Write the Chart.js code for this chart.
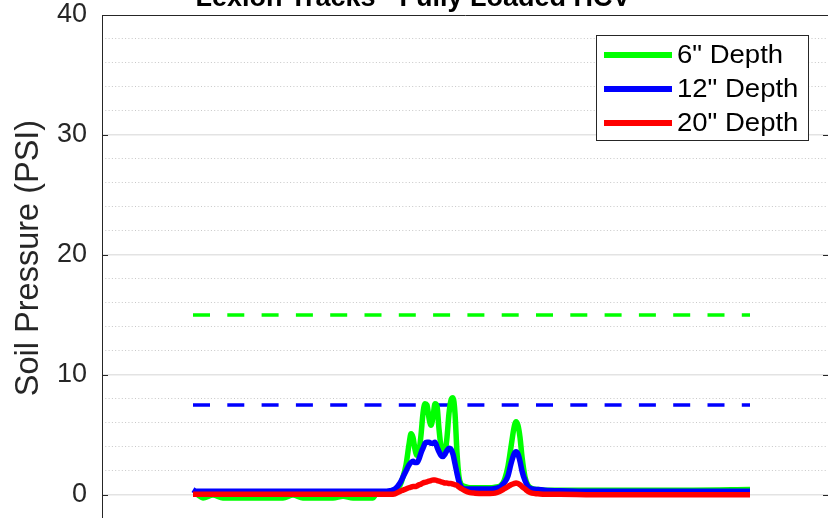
<!DOCTYPE html>
<html>
<head>
<meta charset="utf-8">
<script src="https://cdn.jsdelivr.net/npm/chart.js@4.4.1/dist/chart.umd.min.js"></script>
<style>
  html, body { margin: 0; padding: 0; background: #fff; overflow: hidden; }
  #wrap { position: absolute; left: 0; top: 0; width: 840px; height: 518px; }
</style>
</head>
<body>
<div id="wrap"><canvas id="chart"></canvas></div>
<script>
// time (s) and soil pressure (PSI)
const TIME = [
  0, 0.3, 1, 2, 3, 4, 5, 6, 7, 8, 9, 10, 11, 12, 13, 14, 15, 16, 17, 18,
  18.3, 19, 19.7, 20.2, 20.7, 21.0, 21.3, 21.6, 21.8, 22.0, 22.2, 22.4, 22.6, 22.8,
  23.0, 23.2, 23.4, 23.6, 23.8, 24.0, 24.2, 24.4, 24.6, 24.8, 25.0, 25.2, 25.4, 25.6,
  25.8, 26.0, 26.2, 26.4, 26.6, 26.8, 27.2, 27.7, 28.2, 29.0, 29.7, 30.2, 30.7, 31.0,
  31.2, 31.5, 31.8, 32.1, 32.3, 32.5, 32.7, 32.9, 33.2, 33.5, 33.9, 34.5, 35.2, 36.7,
  40, 45, 50, 55.7
];
const DEPTH_6 = [
  0.05, 0.05, -0.25, 0.0, -0.25, -0.25, -0.25, -0.25, -0.25, -0.25, -0.25, 0.0, -0.25, -0.25, -0.25, -0.25, -0.1, -0.25, -0.25, -0.25,
  0.05, 0.1, 0.2, 0.3, 0.8, 1.5, 2.5, 4.2, 5.1, 4.8, 3.8, 3.3, 3.6, 5.0,
  6.8, 7.6, 7.5, 6.4, 5.8, 6.5, 7.6, 7.4, 5.5, 4.0, 3.4, 3.6, 4.8, 6.8,
  7.9, 8.1, 6.8, 3.5, 1.5, 0.9, 0.7, 0.6, 0.6, 0.6, 0.6, 0.65, 0.75, 1.0,
  1.4, 2.4, 4.0, 5.6, 6.1, 5.8, 4.8, 3.2, 1.5, 0.8, 0.55, 0.45, 0.4, 0.4,
  0.4, 0.4, 0.4, 0.45
];
const DEPTH_12 = [
  0.45, 0.3, 0.3, 0.3, 0.3, 0.3, 0.3, 0.3, 0.3, 0.3, 0.3, 0.3, 0.3, 0.3, 0.3, 0.3, 0.3, 0.3, 0.3, 0.3,
  0.3, 0.3, 0.35, 0.5, 1.0, 1.5, 2.0, 2.5, 2.7, 2.8, 2.7, 2.7, 3.0, 3.5,
  3.9, 4.3, 4.4, 4.4, 4.3, 4.3, 4.4, 4.0, 3.6, 3.3, 3.2, 3.4, 3.7, 3.9,
  3.8, 3.4, 2.6, 1.8, 1.1, 0.7, 0.5, 0.5, 0.5, 0.5, 0.5, 0.55, 0.65, 0.9,
  1.1, 1.6, 2.6, 3.4, 3.6, 3.4, 2.8, 2.0, 1.2, 0.7, 0.5, 0.45, 0.4, 0.35,
  0.3, 0.3, 0.3, 0.3
];
const DEPTH_20 = [
  0.05, 0.05, 0.05, 0.05, 0.05, 0.05, 0.05, 0.05, 0.05, 0.05, 0.05, 0.05, 0.05, 0.05, 0.05, 0.05, 0.05, 0.05, 0.05, 0.05,
  0.05, 0.05, 0.05, 0.1, 0.3, 0.4, 0.5, 0.6, 0.65, 0.7, 0.7, 0.75, 0.85, 0.9,
  1.0, 1.05, 1.1, 1.15, 1.2, 1.25, 1.25, 1.2, 1.15, 1.1, 1.05, 1.0, 1.0, 0.95,
  0.95, 0.9, 0.85, 0.8, 0.65, 0.55, 0.35, 0.2, 0.15, 0.12, 0.12, 0.15, 0.3, 0.45,
  0.55, 0.7, 0.85, 0.95, 1.0, 0.95, 0.85, 0.7, 0.5, 0.3, 0.15, 0.1, 0.05, 0.05,
  0.02, 0.02, 0.02, 0.02
];

// allowable pressure limits (dashed)
const LIMIT_TIME = [0, 55.7];
const LIMIT_6 = [15, 15];
const LIMIT_12 = [7.5, 7.5];

const SERIES_LABELS = ['6" Depth', '12" Depth', '20" Depth'];
const Y_TICKS = [0, 10, 20, 30, 40];
const Y_MINOR = [2, 4, 6, 8, 12, 14, 16, 18, 22, 24, 26, 28, 32, 34, 36, 38];
const TITLE = 'Lexion Tracks - Fully Loaded HCV';
const Y_LABEL = 'Soil Pressure (PSI)';

const GREEN = '#00ff00';
const BLUE = '#0000ff';
const RED = '#ff0000';
const AXIS = '#262626';
const FONT = "'Liberation Sans', Arial, sans-serif";

function xy(xs, ys) {
  return xs.map((x, i) => ({ x, y: ys[i] }));
}

function lineSet(label, data, color, order) {
  return {
    label,
    data: xy(TIME, data),
    borderColor: color,
    backgroundColor: color,
    borderWidth: 5.5,
    borderJoinStyle: 'round',
    pointRadius: 0,
    cubicInterpolationMode: 'monotone',
    fill: false,
    order,
  };
}

function limitSet(data, color) {
  return {
    label: '',
    data: xy(LIMIT_TIME, data),
    borderColor: color,
    borderWidth: 3.5,
    borderDash: [17, 17.3],
    pointRadius: 0,
    fill: false,
    order: 3,
  };
}

// no extra room for the end labels: the plot fills the canvas edge to edge
function fitY(width) {
  return s => {
    s.width = width;
    s.paddingTop = 0;
    s.paddingBottom = 0;
  };
}

// frame, inward ticks, title, y label and boxed legend (MATLAB look)
const frame = {
  id: 'frame',
  afterDraw(chart) {
    const { ctx, chartArea: a } = chart;
    const y = chart.scales.y;
    ctx.save();
    ctx.strokeStyle = AXIS;
    ctx.lineWidth = 1;
    ctx.beginPath();
    ctx.moveTo(a.left, a.top + 0.5);
    ctx.lineTo(a.right, a.top + 0.5);
    Y_TICKS.forEach(v => {
      const py = Math.round(y.getPixelForValue(v)) + 0.5;
      ctx.moveTo(a.left, py);
      ctx.lineTo(a.left + 6, py);
      ctx.moveTo(a.right - 6, py);
      ctx.lineTo(a.right, py);
    });
    ctx.stroke();

    ctx.fillStyle = '#000';
    ctx.font = `bold 27px ${FONT}`;
    ctx.textAlign = 'center';
    ctx.textBaseline = 'alphabetic';
    ctx.fillText(TITLE, 413, 6);

    ctx.save();
    ctx.translate(29, 258);
    ctx.rotate(-Math.PI / 2);
    ctx.fillStyle = AXIS;
    ctx.font = `32.5px ${FONT}`;
    ctx.textBaseline = 'middle';
    ctx.fillText(Y_LABEL, 0, 0);
    ctx.restore();

    // legend box
    ctx.fillStyle = '#fff';
    ctx.fillRect(596, 35, 212, 105);
    ctx.strokeStyle = AXIS;
    ctx.strokeRect(596.5, 35.5, 212, 105);
    ctx.font = `25px ${FONT}`;
    ctx.textAlign = 'left';
    ctx.textBaseline = 'middle';
    chart.data.datasets.slice(0, 3).forEach((ds, i) => {
      const ry = 55 + i * 34;
      ctx.strokeStyle = ds.borderColor;
      ctx.lineWidth = 6;
      ctx.beginPath();
      ctx.moveTo(604, ry);
      ctx.lineTo(672, ry);
      ctx.stroke();
      ctx.save();
      ctx.translate(677, ry + 1);
      ctx.scale(1.1, 1);
      ctx.fillStyle = '#000';
      ctx.fillText(ds.label, 0, 0);
      ctx.restore();
    });
    ctx.restore();
  }
};

new Chart(document.getElementById('chart'), {
  type: 'line',
  data: {
    datasets: [
      lineSet(SERIES_LABELS[0], DEPTH_6, GREEN, 2),
      lineSet(SERIES_LABELS[1], DEPTH_12, BLUE, 1),
      lineSet(SERIES_LABELS[2], DEPTH_20, RED, 0),
      limitSet(LIMIT_6, GREEN),
      limitSet(LIMIT_12, BLUE),
    ],
  },
  options: {
    responsive: true,
    maintainAspectRatio: false,
    animation: false,
    layout: { padding: { top: 15, right: 11, bottom: 0, left: 0 } },
    scales: {
      x: {
        type: 'linear',
        min: -9.1,
        max: 63.6,
        display: false,
      },
      y: {
        min: -1.92,
        max: 40,
        afterBuildTicks: s => { s.ticks = Y_TICKS.map(v => ({ value: v })); },
        afterFit: fitY(102),
        ticks: {
          color: AXIS,
          font: { family: FONT, size: 27 },
          padding: 15,
        },
        grid: {
          color: c => (c.tick && c.tick.value === 40 ? 'rgba(0,0,0,0)' : '#e3e3e3'),
          lineWidth: 1.5,
          drawTicks: false,
        },
        border: { color: AXIS, width: 1 },
      },
      yMinor: {
        position: 'left',
        min: -1.92,
        max: 40,
        afterBuildTicks: s => { s.ticks = Y_MINOR.map(v => ({ value: v })); },
        afterFit: fitY(0),
        ticks: { display: false },
        grid: { color: '#c8c8c8', lineWidth: 1, drawTicks: false },
        border: { display: false, dash: [1, 2.3] },
      },
    },
    plugins: {
      legend: { display: false },
      title: { display: false },
      tooltip: { enabled: false },
    },
  },
  plugins: [frame],
});
</script>
</body>
</html>
